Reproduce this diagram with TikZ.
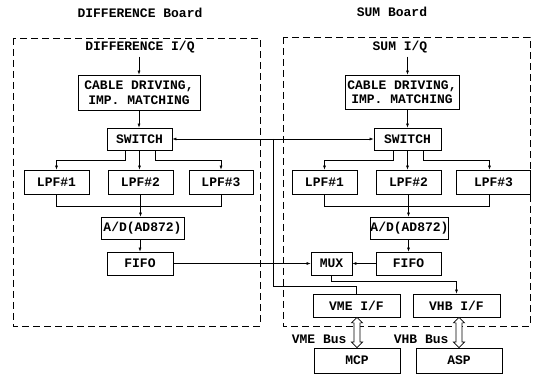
\documentclass[tikz,border=0pt]{standalone}
\usepackage{fontspec}
\setmonofont{Liberation Mono}
\usetikzlibrary{arrows.meta}
% hollow double-headed bus arrow from #1 (top) to #2 (bottom)
\newcommand{\busarrow}[2]{%
  \draw[line width=0.7pt, fill=white] (#1) -- ++(5.5,5.5) -- ++(-2.5,0)
    -- ([shift={(3,-5.5)}]#2) -- ++(2.5,0) -- (#2) -- ++(-5.5,-5.5) -- ++(2.5,0)
    -- ([shift={(-3,5.5)}]#1) -- ++(-2.5,0) -- cycle;}
\begin{document}
\begin{tikzpicture}[x=1pt,y=-1pt,
    font=\fontsize{13}{14.5}\selectfont\ttfamily\bfseries,
    >={Latex[length=4pt,width=3pt]},
    blk/.style={draw, line width=0.8pt, inner sep=0pt, align=center},
    wire/.style={line width=0.6pt},
    board/.style={line width=0.8pt, dash pattern=on 7pt off 4pt}]
\useasboundingbox (0,0) rectangle (536,374);

% ---- boards
\node (titleL) at (140,13) {DIFFERENCE Board};
\node (titleR) at (392,12) {SUM Board};
\draw[board] (13,38) rectangle (260,326);
\draw[board] (283,37) rectangle (530,326);

% ---- DIFFERENCE I/Q
\node (iqL) at (140,47) {DIFFERENCE I/Q};
\node[blk, minimum width=122, minimum height=35] (cableL) at (139,92.5) {CABLE DRIVING,\\IMP. MATCHING};
\node[blk, minimum width=65, minimum height=22] (switchL) at (139.5,139) {SWITCH};
\node[blk, minimum width=65, minimum height=24] (lpf1L) at (56.5,182) {LPF\#1};
\node[blk, minimum width=65, minimum height=24] (lpf2L) at (140.5,182) {LPF\#2};
\node[blk, minimum width=64, minimum height=24] (lpf3L) at (221,182) {LPF\#3};
\node[blk, minimum width=83, minimum height=22] (adL) at (142.5,228) {A/D(AD872)};
\node[blk, minimum width=66, minimum height=23] (fifoL) at (140,263.5) {FIFO};

\draw[wire,->] (cableL.north |- iqL.south) -- (cableL.north);
\draw[wire,->] (cableL.south) -- (cableL.south |- switchL.north);
\draw[wire,->] ([xshift=-14.5pt]switchL.south) -- ++(0,10) -| (lpf1L.north);
\draw[wire,->] (switchL.south) -- (switchL.south |- lpf2L.north);
\draw[wire,->] ([xshift=15.5pt]switchL.south) -- ++(0,10) -| (lpf3L.north);
\draw[wire] (lpf1L.south) -- ++(0,12) -| (lpf3L.south);
\draw[wire,->] (lpf2L.south) -- (lpf2L.south |- adL.north);
\draw[wire,->] (fifoL.north |- adL.south) -- (fifoL.north);

% ---- SUM I/Q
\node (iqR) at (400,47) {SUM I/Q};
\node[blk, minimum width=114, minimum height=34] (cableR) at (402,92) {CABLE DRIVING,\\IMP. MATCHING};
\node[blk, minimum width=67, minimum height=22] (switchR) at (407.5,139) {SWITCH};
\node[blk, minimum width=65, minimum height=24] (lpf1R) at (324.5,182) {LPF\#1};
\node[blk, minimum width=65, minimum height=24] (lpf2R) at (408.5,182) {LPF\#2};
\node[blk, minimum width=74, minimum height=24] (lpf3R) at (493.5,182) {LPF\#3};
\node[blk, minimum width=77, minimum height=22] (adR) at (409.5,228) {A/D(AD872)};
\node[blk, minimum width=65, minimum height=23] (fifoR) at (408.5,263.5) {FIFO};
\node[blk, minimum width=41, minimum height=23] (mux) at (331.5,263.5) {MUX};
\node[blk, minimum width=87, minimum height=23] (vmeif) at (356.5,305.5) {VME I/F};
\node[blk, minimum width=87, minimum height=23] (vhbif) at (456.5,305.5) {VHB I/F};

\draw[wire,->] (switchR.north |- iqR.south) -- (switchR.north |- cableR.north);
\draw[wire,->] (switchR.north |- cableR.south) -- (switchR.north);
\draw[wire,->] ([xshift=-14.5pt]switchR.south) -- ++(0,10) -| (lpf1R.north);
\draw[wire,->] (switchR.south) -- (switchR.south |- lpf2R.north);
\draw[wire,->] ([xshift=15.5pt]switchR.south) -- ++(0,10) -| ([xshift=-4pt]lpf3R.north);
\draw[wire] (lpf1R.south) -- ++(0,12) -| ([xshift=-4pt]lpf3R.south);
\draw[wire,->] (lpf2R.south) -- (lpf2R.south |- adR.north);
\draw[wire,->] (fifoR.north |- adR.south) -- (fifoR.north);
\draw[wire,->] (fifoR.west) -- (mux.east);
\draw[wire,->] (mux.south) -- ++(0,6) -| (vhbif.north);

% ---- between the boards
\coordinate (tap) at (273,139);
\draw[wire,<->] (switchL.east) -- (switchR.west);
\draw[wire] (tap) |- ([yshift=7pt]vmeif.north) -- (vmeif.north);
\draw[wire,->] (fifoL.east) -- (mux.west);

% ---- host side
\node[blk, minimum width=86, minimum height=25] (mcp) at (357,360.5) {MCP};
\node[blk, minimum width=86, minimum height=25] (asp) at (459,360.5) {ASP};
\busarrow{mcp.north |- vmeif.south}{mcp.north}
\busarrow{asp.north |- vhbif.south}{asp.north}
\node[anchor=east] (vmebus) at (350,339) {VME Bus};
\node[anchor=east] (vhbbus) at (452,339) {VHB Bus};
\end{tikzpicture}
\end{document}
